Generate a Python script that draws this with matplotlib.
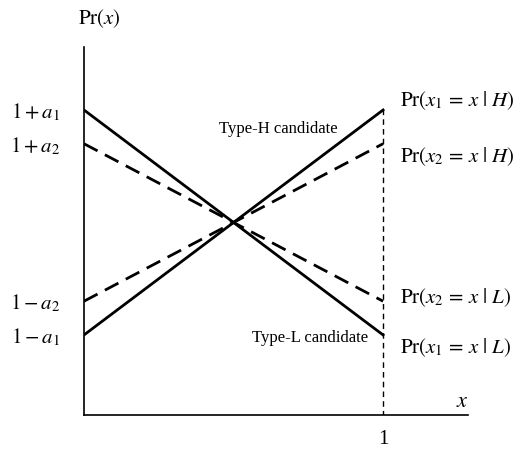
import matplotlib.pyplot as plt
import numpy as np

plt.rcParams['font.family'] = ['Liberation Serif', 'DejaVu Serif']
plt.rcParams['mathtext.fontset'] = 'stix'

# model parameters
a1 = 0.6
a2 = 0.42
x = np.array([0.0, 1.0])

pr_x1_H = 1 + a1 * (2 * x - 1)
pr_x1_L = 1 - a1 * (2 * x - 1)
pr_x2_H = 1 + a2 * (2 * x - 1)
pr_x2_L = 1 - a2 * (2 * x - 1)

ytick_vals = [1 + a1, 1 + a2, 1 - a2, 1 - a1]
ytick_labels = [r'$1+a_1$', r'$1+a_2$', r'$1-a_2$', r'$1-a_1$']
right_labels = [r'$\mathrm{Pr}(x_1\,=\,x\ |\ H)$', r'$\mathrm{Pr}(x_2\,=\,x\ |\ H)$',
                r'$\mathrm{Pr}(x_2\,=\,x\ |\ L)$', r'$\mathrm{Pr}(x_1\,=\,x\ |\ L)$']

W, H = 519, 463
fig = plt.figure(figsize=(W / 100, H / 100), dpi=100)
ax = fig.add_axes([84 / W, (H - 415) / H, (468 - 84) / W, (415 - 47) / H])

ax.plot(x, pr_x1_H, color='black', lw=2)
ax.plot(x, pr_x1_L, color='black', lw=2)
ax.plot(x, pr_x2_H, color='black', lw=2, ls=(0, (5.5, 3)))
ax.plot(x, pr_x2_L, color='black', lw=2, ls=(0, (5.5, 3)))
ax.plot([1, 1], [-0.03, 1 + a1], color='black', lw=1, ls=(0, (4, 3)))

ax.set_xlim(0, 1.284)
ax.set_ylim(-0.027, 1.936)
for s in ['top', 'right']:
    ax.spines[s].set_visible(False)
ax.spines['left'].set_linewidth(1.2)
ax.spines['bottom'].set_linewidth(1.2)

ax.set_yticks(ytick_vals)
ax.set_yticklabels(ytick_labels, fontsize=15)
ax.set_xticks([1])
ax.set_xticklabels(['1'], fontsize=15)
ax.tick_params(axis='y', length=0, pad=17)
ax.tick_params(axis='x', length=0, pad=11)

# axis names
ax.annotate(r'$\mathrm{Pr}(x)$', xy=(0.04, 1.0), xycoords='axes fraction',
            xytext=(0, 12), textcoords='offset points', fontsize=15,
            ha='center', va='bottom')
ax.annotate(r'$x$', xy=(1.0, 0), xycoords='axes fraction', xytext=(-4, 2),
            textcoords='offset points', fontsize=16, ha='center', va='bottom')

# right-hand labels
right_y = [pr_x1_H[1] + 0.05, pr_x2_H[1] - 0.07, pr_x2_L[1] + 0.02, pr_x1_L[1] - 0.07]
for yv, lab in zip(right_y, right_labels):
    ax.text(1.055, yv, lab, fontsize=15, ha='left', va='center')

ax.text(0.65, 1.5, 'Type-H candidate', fontsize=12, ha='center', va='center')
ax.text(0.755, 0.384, 'Type-L candidate', fontsize=12, ha='center', va='center')

fig.savefig('out.png', dpi=100)
